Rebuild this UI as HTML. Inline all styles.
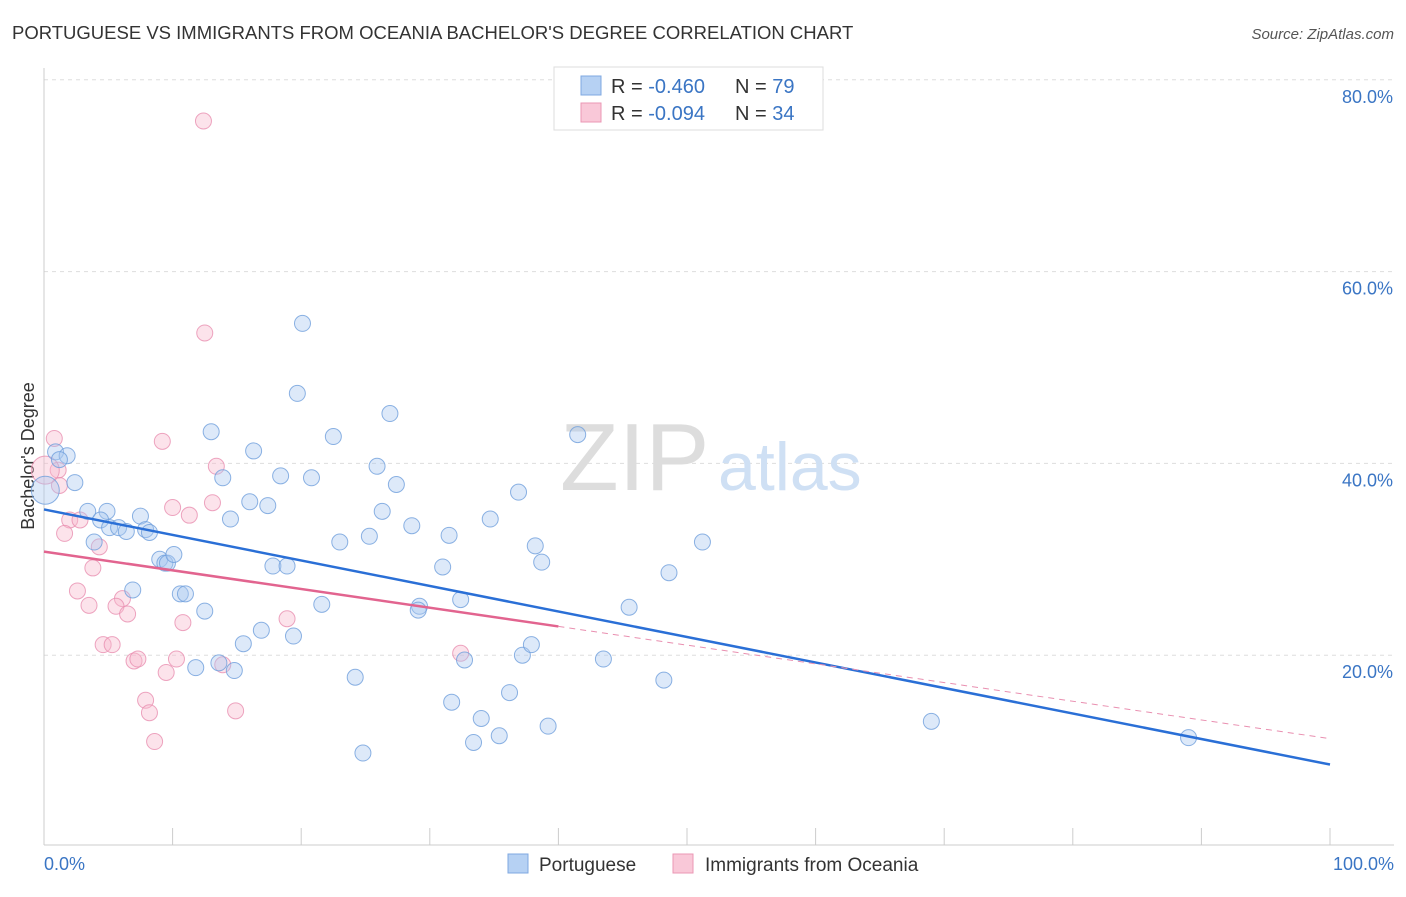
<!DOCTYPE html>
<html><head><meta charset="utf-8"><style>
body{margin:0;background:#fff;font-family:"Liberation Sans",sans-serif;}
svg text{font-family:"Liberation Sans",sans-serif;}
</style></head><body>
<svg id="chart" width="1406" height="892" xmlns="http://www.w3.org/2000/svg">
<text x="12" y="39" font-size="18.5" fill="#333">PORTUGUESE VS IMMIGRANTS FROM OCEANIA BACHELOR'S DEGREE CORRELATION CHART</text>
<text x="1394" y="39" font-size="15" fill="#555" text-anchor="end" font-style="italic">Source: ZipAtlas.com</text>
<g id="grid"></g>
<text x="560" y="490" font-size="96" fill="#ddd" font-family="Liberation Serif">ZIP</text>
<text x="718" y="490" font-size="68" fill="#cfe0f4">atlas</text>
<line x1="44" y1="68" x2="44" y2="845" stroke="#ccc"/>
<line x1="44" y1="845" x2="1394" y2="845" stroke="#ccc"/>
<text transform="translate(34,456) rotate(-90)" font-size="18" fill="#333" text-anchor="middle">Bachelor's Degree</text>
<text x="44" y="870" font-size="18" fill="#3a75c4">0.0%</text>
<text x="1394" y="870" font-size="18" fill="#3a75c4" text-anchor="end">100.0%</text>
<g id="pts"></g>
<g id="lines"></g>
<g>
<rect x="554" y="67" width="269" height="63" fill="#fff" stroke="#ddd"/>
<rect x="581" y="76" width="20" height="19" fill="#b6d1f3" stroke="#7fa8e0"/>
<rect x="581" y="103" width="20" height="19" fill="#f9c8d8" stroke="#eb97b4"/>
<text x="611" y="93" font-size="20" fill="#333">R = <tspan fill="#3a75c4">-0.460</tspan><tspan x="735">N = </tspan><tspan fill="#3a75c4">79</tspan></text>
<text x="611" y="120" font-size="20" fill="#333">R = <tspan fill="#3a75c4">-0.094</tspan><tspan x="735">N = </tspan><tspan fill="#3a75c4">34</tspan></text>
</g>
<g>
<rect x="508" y="854" width="20" height="19" fill="#b6d1f3" stroke="#7fa8e0"/>
<text x="539" y="871" font-size="19" fill="#333">Portuguese</text>
<rect x="673" y="854" width="20" height="19" fill="#f9c8d8" stroke="#eb97b4"/>
<text x="705" y="871" font-size="19" fill="#333">Immigrants from Oceania</text>
</g>
</svg>
<script>
const yTicks=[20,40,60,80];
const xTickCount=10;
const blueX=[0.9,1.8,1.2,2.4,3.4,4.9,4.4,5.1,3.9,5.8,6.4,7.5,7.9,8.2,6.9,9.0,9.4,9.6,10.1,10.6,11.0,12.5,11.8,13.0,13.6,13.9,14.5,14.8,15.5,16.0,16.3,16.9,17.4,17.8,18.9,18.4,19.4,19.7,20.1,20.8,21.6,22.5,23.0,24.2,24.8,25.3,25.9,26.3,26.9,27.4,28.6,29.2,29.1,31.0,31.5,31.7,32.4,32.7,33.4,34.0,34.7,35.4,36.2,36.9,37.2,37.9,38.2,38.7,39.2,41.5,43.5,45.5,48.2,48.6,51.2,69.0,89.0,0.1];
const blueY=[41.2,40.8,40.4,38.0,35.0,35.0,34.1,33.3,31.8,33.3,32.9,34.5,33.1,32.8,26.8,30.0,29.6,29.6,30.5,26.4,26.4,24.6,18.7,43.3,19.2,38.5,34.2,18.4,21.2,36.0,41.3,22.6,35.6,29.3,29.3,38.7,22.0,47.3,54.6,38.5,25.3,42.8,31.8,17.7,9.8,32.4,39.7,35.0,45.2,37.8,33.5,25.1,24.7,29.2,32.5,15.1,25.8,19.5,10.9,13.4,34.2,11.6,16.1,37.0,20.0,21.1,31.4,29.7,12.6,43.0,19.6,25.0,17.4,28.6,31.8,13.1,11.4,37.2];
const pinkX=[12.4,12.5,9.2,13.4,0.8,1.1,1.2,2.0,1.6,2.8,4.3,3.8,2.6,3.5,6.1,5.6,6.5,4.6,5.3,7.0,7.3,9.5,10.3,10.8,10.0,11.3,13.1,13.9,14.9,18.9,7.9,8.2,8.6,32.4,0.1];
const pinkY=[75.7,53.6,42.3,39.7,42.6,39.3,37.7,34.1,32.7,34.1,31.3,29.1,26.7,25.2,25.9,25.1,24.3,21.1,21.1,19.4,19.6,18.2,19.6,23.4,35.4,34.6,35.9,19.0,14.2,23.8,15.3,14.0,11.0,20.2,39.3];
const blueTrend=[35.2,8.6];
const pinkTrend=[30.8,11.3];
const NS="http://www.w3.org/2000/svg";
const X0=44,X1=1330,Y0=847,PY=9.59;
function xs(v){return X0+(X1-X0)*v/100;}
function ys(v){return Y0-v*PY;}
const grid=document.getElementById('grid');
yTicks.forEach(t=>{
 const l=document.createElementNS(NS,'line');
 l.setAttribute('x1',44);l.setAttribute('x2',1394);l.setAttribute('y1',ys(t));l.setAttribute('y2',ys(t));
 l.setAttribute('stroke','#ddd');l.setAttribute('stroke-dasharray','4,4');
 
 
 grid.appendChild(l);
 const tx=document.createElementNS(NS,'text');
 tx.setAttribute('x',1393);tx.setAttribute('y',ys(t)+23);tx.setAttribute('text-anchor','end');
 tx.setAttribute('font-size','18');tx.setAttribute('fill','#3a75c4');tx.textContent=t.toFixed(1)+'%';
 
 
 grid.appendChild(tx);
});
for(let i=1;i<=xTickCount;i++){
 const l=document.createElementNS(NS,'line');
 const x=xs(i*100/xTickCount);
 l.setAttribute('x1',x);l.setAttribute('x2',x);l.setAttribute('y1',828);l.setAttribute('y2',845);l.setAttribute('stroke','#ccc');
 
 
 grid.appendChild(l);
}
const pts=document.getElementById('pts');
function dots(X,Y,fill,stroke,name){
 X.forEach((x,i)=>{
  const c=document.createElementNS(NS,'circle');
  const big=(x<0.5);
  c.setAttribute('cx',xs(x));c.setAttribute('cy',ys(Y[i]));c.setAttribute('r',big?14:8);
  c.setAttribute('fill',fill);c.setAttribute('fill-opacity','0.4');c.setAttribute('stroke',stroke);c.setAttribute('stroke-opacity','0.8');c.setAttribute('stroke-width','1');
  
  
  pts.appendChild(c);
 });
}
dots(pinkX,pinkY,'#f7b8cc','#e98fb0','point-oceania');
dots(blueX,blueY,'#a9c8ef','#6f9fdc','point-portuguese');
const lines=document.getElementById('lines');
function seg(x1,y1,x2,y2,col,w,dash,name){
 const l=document.createElementNS(NS,'line');
 l.setAttribute('x1',xs(x1));l.setAttribute('y1',ys(y1));l.setAttribute('x2',xs(x2));l.setAttribute('y2',ys(y2));
 l.setAttribute('stroke',col);l.setAttribute('stroke-width',w);if(dash)l.setAttribute('stroke-dasharray',dash);
 
 
 lines.appendChild(l);
}
function at(tr,x){return tr[0]+(tr[1]-tr[0])*x/100;}
seg(0,blueTrend[0],100,blueTrend[1],'#2a6fd6',2.5,null,'trend-portuguese');
seg(0,pinkTrend[0],40,at(pinkTrend,40),'#e2648f',2.5,null,'trend-oceania');
seg(40,at(pinkTrend,40),100,pinkTrend[1],'#e98fb0',1,'6,5','trend-oceania-extrapolated');
</script>
</body></html>
